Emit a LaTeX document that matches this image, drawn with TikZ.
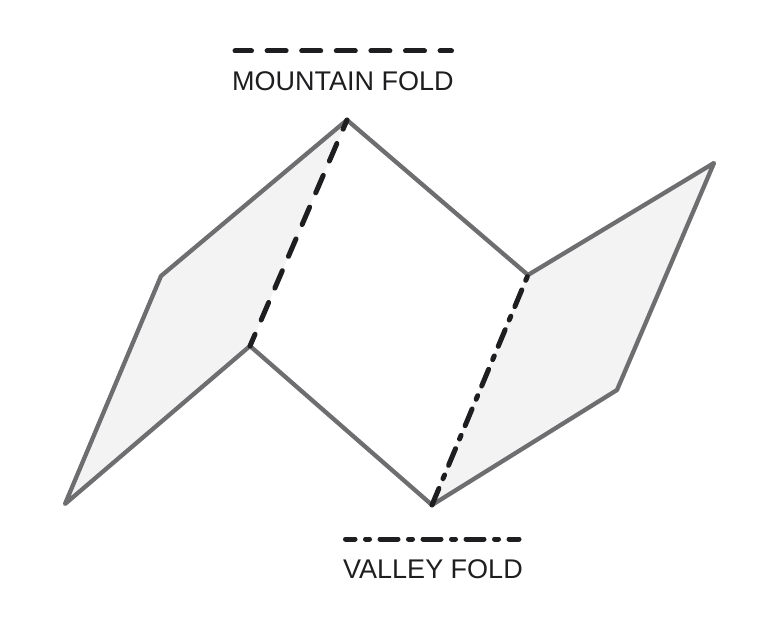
\documentclass[tikz,border=0pt]{standalone}
\usepackage{fontspec}
\setmainfont{Liberation Sans}
\usetikzlibrary{positioning}
\definecolor{foldgray}{HTML}{6E6E70}
\definecolor{foldfill}{HTML}{F3F3F4}
\definecolor{foldink}{HTML}{1E1E20}
\tikzset{
  paperedge/.style={draw=foldgray, line width=4.3pt, line join=round, line cap=round},
  paperfill/.style={fill=foldfill},
  mountainline/.style={draw=foldink, line width=5pt, line cap=round, dash pattern=on 19pt off 15.6pt},
  valleyline/.style={draw=foldink, line width=5pt, line cap=round, dash pattern=on 18pt off 10.5pt on 4pt off 10.5pt},
  foldlabel/.style={text=foldink, font=\fontsize{27pt}{30pt}\selectfont, inner sep=0pt, anchor=base west}
}
\begin{document}
\begin{tikzpicture}[x=1pt,y=-1pt]
\useasboundingbox (0,0) rectangle (780,628);
\coordinate (a) at (65,504);
\coordinate (b) at (161,276);
\coordinate (c) at (347,120);
\coordinate (d) at (528,275);
\coordinate (e) at (714,163);
\coordinate (f) at (617,390);
\coordinate (g) at (432,505);
\coordinate (h) at (250,346);
\fill[paperfill] (a) -- (b) -- (c) -- (h) -- cycle;
\fill[paperfill] (d) -- (e) -- (f) -- (g) -- cycle;
\draw[paperedge]
     (h) -- (a) -- (b) -- (c) -- (d) -- (e) -- (f) -- (g) -- (h);
\draw[mountainline, dash phase=9pt] (c) -- (h);
\draw[valleyline] (g) -- (d);
\coordinate (mstart) at (235,51);
\coordinate (mend) at (451.5,51);
\draw[mountainline, dash phase=2.5pt] (mstart) -- (mend);
\node[foldlabel] (mlabel) at (232,91) {MOUNTAIN FOLD};
\coordinate (vstart) at (345.5,539);
\coordinate (vend) at (519,539);
\draw[valleyline, dash phase=8.5pt] (vstart) -- (vend);
\node[foldlabel] (vlabel) at (343,578) {VALLEY FOLD};
\end{tikzpicture}
\end{document}
